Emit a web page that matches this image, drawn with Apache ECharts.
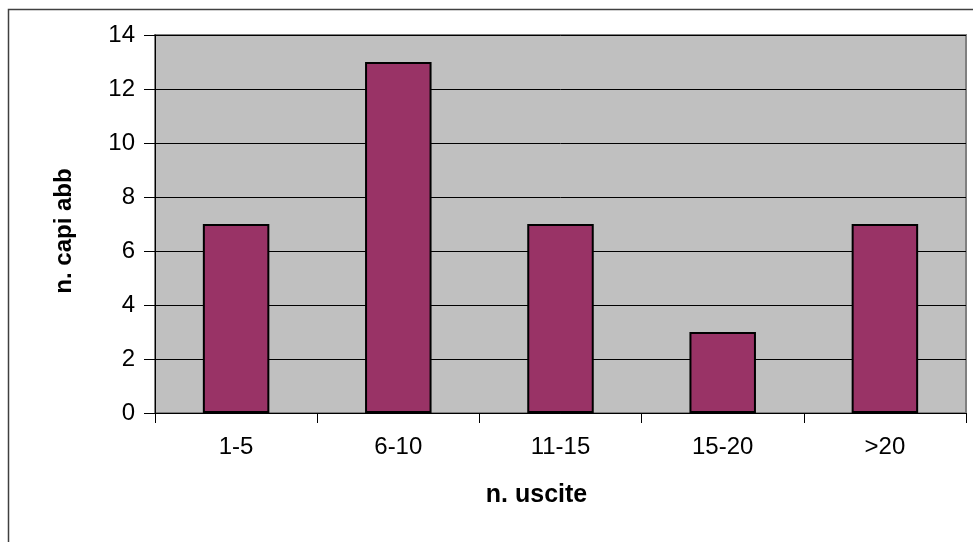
<!DOCTYPE html>
<html>
<head>
<meta charset="utf-8">
<script src="https://cdn.jsdelivr.net/npm/echarts@6/dist/echarts.min.js"></script>
<style>
html,body{margin:0;padding:0;background:#fff;}
#c{width:973px;height:542px;}
</style>
</head>
<body>
<div id="c"></div>
<script>
const categories = ['1-5', '6-10', '11-15', '15-20', '>20'];
const values = [7, 13, 7, 3, 7];
const yTicks = { min: 0, max: 14, interval: 2 };
const xTitle = 'n. uscite';
const yTitle = 'n. capi abb';

const chart = echarts.init(document.getElementById('c'), null, { renderer: 'canvas' });
const font = '"Liberation Sans", Arial, sans-serif';
chart.setOption({
  animation: false,
  backgroundColor: '#ffffff',
  graphic: [{
    type: 'rect', silent: true, z: -10,
    shape: { x: 8.5, y: 9.5, width: 1200, height: 800 },
    style: { fill: 'none', stroke: '#404040', lineWidth: 1.5 }
  }],
  grid: {
    left: 155, top: 35, right: 7, bottom: 129,
    show: true, backgroundColor: '#C0C0C0', borderColor: '#808080', borderWidth: 2
  },
  xAxis: {
    type: 'category',
    data: categories,
    name: xTitle,
    nameLocation: 'middle',
    nameGap: 70,
    nameTextStyle: { fontFamily: font, fontSize: 25, fontWeight: 'bold', color: '#000', padding: [0, 48, 0, 0] },
    axisLine: { lineStyle: { color: '#000', width: 1 } },
    axisTick: { show: true, length: 10, lineStyle: { color: '#000' } },
    axisLabel: { fontFamily: font, fontSize: 24, color: '#000', margin: 22 },
    splitLine: { show: false }
  },
  yAxis: {
    type: 'value',
    min: yTicks.min, max: yTicks.max, interval: yTicks.interval,
    name: yTitle,
    nameLocation: 'middle',
    nameGap: 79,
    nameRotate: 90,
    nameTextStyle: { fontFamily: font, fontSize: 24, fontWeight: 'bold', color: '#000', padding: [0, 14, 0, 0] },
    axisLine: { show: true, lineStyle: { color: '#000', width: 1 } },
    axisTick: { show: true, length: 11, lineStyle: { color: '#000' } },
    axisLabel: { fontFamily: font, fontSize: 24, color: '#000', margin: 20 },
    splitLine: { show: true, lineStyle: { color: '#000', width: 1 } }
  },
  series: [{
    type: 'bar',
    data: values,
    barWidth: '41%',
    itemStyle: { color: '#993366', borderColor: '#000', borderWidth: 2 }
  }]
});
</script>
</body>
</html>
